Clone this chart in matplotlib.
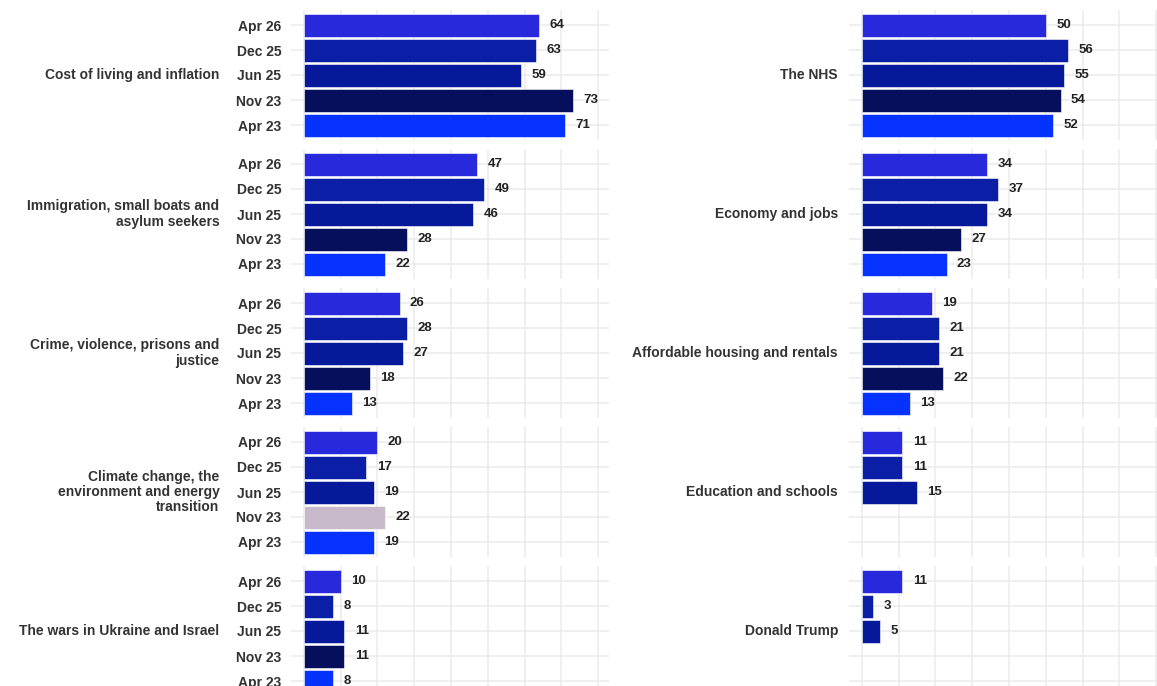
import matplotlib
matplotlib.use("Agg")
import matplotlib.pyplot as plt
import numpy as np

plt.rcParams['font.family'] = ['Liberation Sans', 'DejaVu Sans']

waves = ["Apr 26", "Dec 25", "Jun 25", "Nov 23", "Apr 23"]
wave_colors = ["#2828DC", "#0A1EA6", "#06199A", "#050F5C", "#0532FF"]
highlight_color = "#C8BACB"

left_topics = [
    "Cost of living and inflation",
    "Immigration, small boats and\nasylum seekers",
    "Crime, violence, prisons and\njustice",
    "Climate change, the\nenvironment and energy\ntransition",
    "The wars in Ukraine and Israel",
]
left_values = [
    [64, 63, 59, 73, 71],
    [47, 49, 46, 28, 22],
    [26, 28, 27, 18, 13],
    [20, 17, 19, 22, 19],
    [10, 8, 11, 11, 8],
]
right_topics = [
    "The NHS",
    "Economy and jobs",
    "Affordable housing and rentals",
    "Education and schools",
    "Donald Trump",
]
right_values = [
    [50, 56, 55, 54, 52],
    [34, 37, 34, 27, 23],
    [19, 21, 21, 22, 13],
    [11, 11, 15, None, None],
    [11, 3, 5, None, None],
]
# (column, row, wave index) of highlighted bars
highlights = [(0, 3, 3)]

W, H = 1157, 686
fig = plt.figure(figsize=(W / 100, H / 100), dpi=100)

px_per_unit = 3.68
x_lo, x_hi = -3.5, 83.0
panel_w = (x_hi - x_lo) * px_per_unit
panel_h = 130
col_left = [291, 849]
row_top0, row_step = 10, 139

text_color = "#333333"

for c, (topics, values) in enumerate([(left_topics, left_values), (right_topics, right_values)]):
    for r in range(5):
        top = row_top0 + row_step * r
        ax = fig.add_axes([col_left[c] / W, 1 - (top + panel_h) / H, panel_w / W, panel_h / H])
        ax.set_xlim(x_lo, x_hi)
        ax.set_ylim(len(waves) - 1 + 0.6, -0.6)
        for s in ax.spines.values():
            s.set_visible(False)
        ax.set_xticks(np.arange(0, 90, 10))
        ax.set_xticklabels([])
        ax.set_yticks(range(len(waves)))
        ax.grid(True, color="#EBEBEB", lw=1.1)
        ax.set_axisbelow(True)
        ax.tick_params(length=0)
        if c == 0:
            ax.set_yticklabels(waves, fontsize=10, fontweight="bold", color=text_color)
            ax.tick_params(axis="y", pad=7)
            lab_off = -51.5
        else:
            ax.set_yticklabels([])
            lab_off = -8
        vals = values[r]
        for i, v in enumerate(vals):
            if v is None:
                continue
            col = highlight_color if (c, r, i) in highlights else wave_colors[i]
            ax.barh(i, v, height=0.92, color=col, edgecolor="white", lw=0.4)
            ax.annotate(str(v), xy=(v, i), xytext=(7.5, 0), textcoords="offset points",
                        ha="left", va="center", fontsize=9.5, fontweight="bold", color="#222222")
        ax.annotate(topics[r], xy=(0, 2), xycoords=("axes fraction", "data"),
                    xytext=(lab_off, 0), textcoords="offset points",
                    ha="right", va="center", fontsize=10, fontweight="bold",
                    color=text_color, linespacing=1.12)

fig.savefig("out.png", dpi=100)
